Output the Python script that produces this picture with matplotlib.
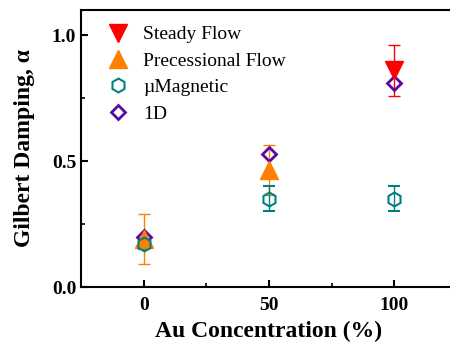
import numpy as np
import matplotlib.pyplot as plt
import matplotlib
from matplotlib.lines import Line2D

params = {'font.family': 'serif',
          'font.serif': ['Liberation Serif', 'DejaVu Serif'],
          'mathtext.fontset': 'stix',
          'xtick.direction': 'in',
          'ytick.direction': 'in',
          }
matplotlib.rcParams.update(params)

# data
steady_x = [100]
steady_y = [0.86]
steady_err = [0.10]

prec_x = [0, 50]
prec_y = [0.19, 0.465]
prec_err = [0.10, 0.10]

mumag_x = [0, 50, 100]
mumag_y = [0.17, 0.35, 0.35]
mumag_err = [0.02, 0.05, 0.05]

oned_x = [0, 50, 100]
oned_y = [0.20, 0.53, 0.81]

c_steady, c_prec, c_mumag, c_oned = '#ff0000', '#ff8000', '#008080', '#5a0aa0'

fig = plt.figure(figsize=(4.5, 3.42), dpi=100)
ax = fig.add_axes([81/450, 55/342, 376/450, 277/342])

ax.errorbar(steady_x, steady_y, yerr=steady_err, fmt='v', color=c_steady,
            ms=13, capsize=4, elinewidth=1)
ax.errorbar(prec_x, prec_y, yerr=prec_err, fmt='^', color=c_prec,
            ms=13, capsize=4, elinewidth=1)
ax.errorbar(mumag_x, mumag_y, yerr=mumag_err, fmt='h', color=c_mumag,
            mfc='none', mew=1.5, ms=10, capsize=4, elinewidth=1)
ax.plot(oned_x, oned_y, 'D', color=c_oned, mfc='none', mew=2, ms=7)

ax.set_xlim(-25, 125)
ax.set_ylim(0, 1.1)
ax.set_xticks([0, 50, 100])
ax.set_xticks([25, 75], minor=True)
ax.set_yticks([0.0, 0.5, 1.0])
ax.set_yticks([0.25, 0.75], minor=True)
ax.set_yticklabels(['0.0', '0.5', '1.0'])
for lab in ax.get_xticklabels() + ax.get_yticklabels():
    lab.set_fontweight('bold')
    lab.set_fontsize(14)
ax.tick_params(which='major', length=5, width=1.5)
ax.tick_params(axis='x', pad=7)
ax.tick_params(which='minor', length=3, width=1.2)
for s in ax.spines.values():
    s.set_linewidth(1.5)

ax.set_xlabel('Au Concentration (%)', fontsize=17, fontweight='bold', labelpad=5)
ax.set_ylabel('Gilbert Damping, α', fontsize=17, fontweight='bold', labelpad=12)

handles = [
    Line2D([], [], ls='none', marker='v', color=c_steady, ms=13),
    Line2D([], [], ls='none', marker='^', color=c_prec, ms=13),
    Line2D([], [], ls='none', marker='h', color=c_mumag, mfc='none', mew=1.5, ms=10),
    Line2D([], [], ls='none', marker='D', color=c_oned, mfc='none', mew=2, ms=7),
]
labels = ['Steady Flow', 'Precessional Flow', 'µMagnetic', '1D']
ax.legend(handles, labels, loc='upper left', frameon=False, fontsize=14,
          handletextpad=0.3, borderaxespad=0.2, labelspacing=0.45,
          bbox_to_anchor=(0.015, 0.985))

plt.savefig('out.png', dpi=100)
